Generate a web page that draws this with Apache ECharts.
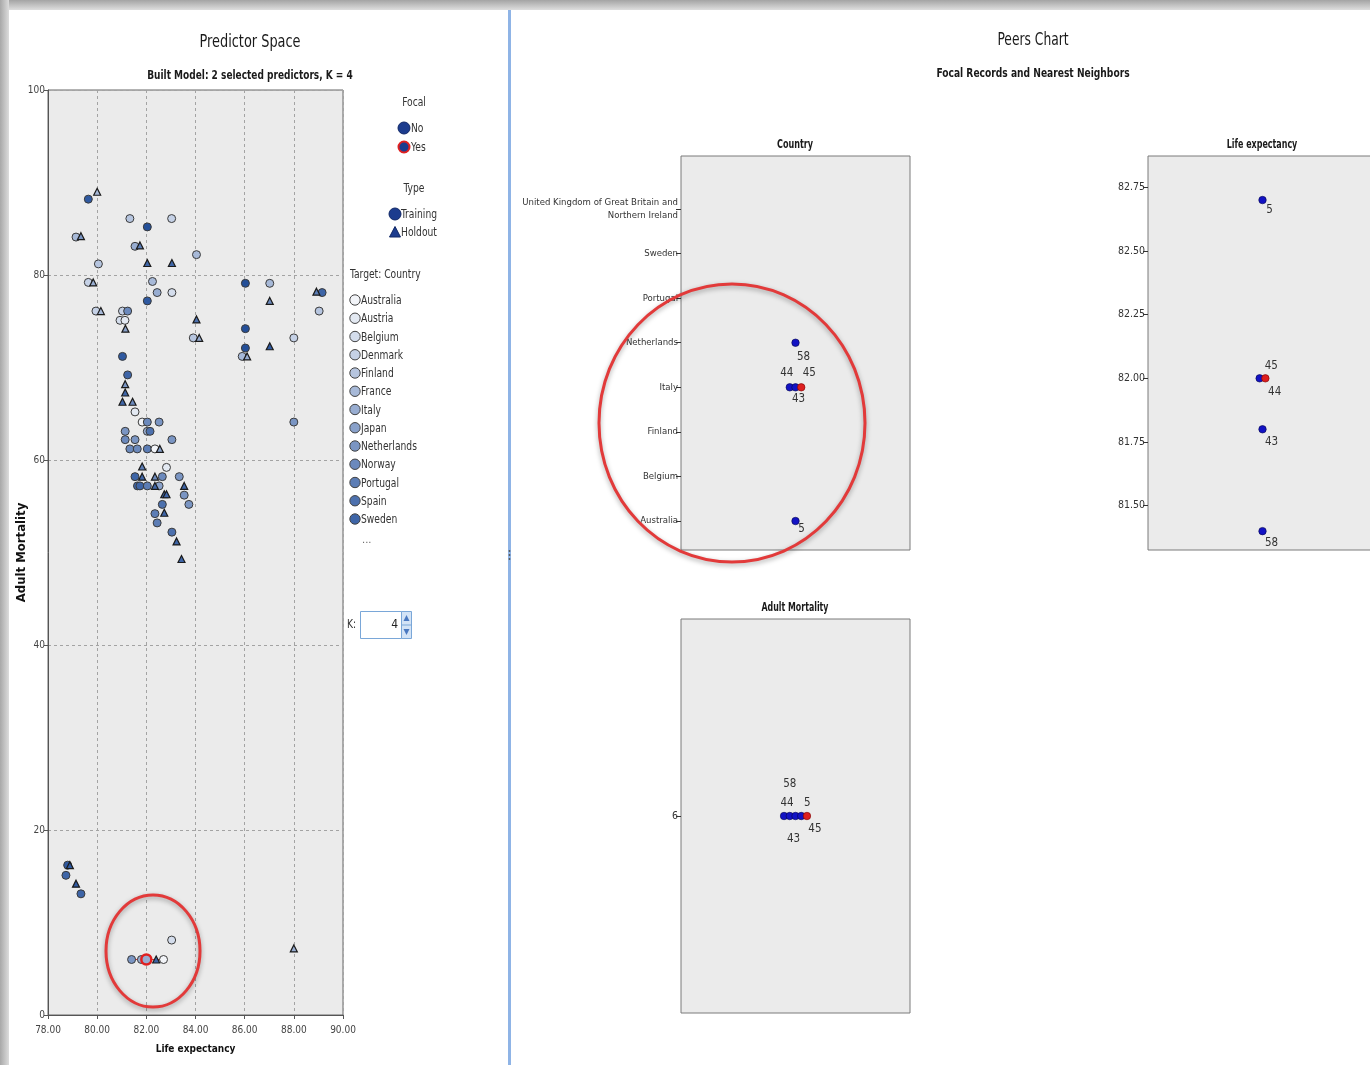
<!DOCTYPE html>
<html>
<head>
<meta charset="utf-8">
<script src="https://cdn.jsdelivr.net/npm/echarts@6/dist/echarts.min.js"></script>
<style>
  html, body { margin: 0; padding: 0; background: #ffffff; }
  #main { width: 1370px; height: 1065px; }
</style>
</head>
<body>
<div id="main"></div>
<script>
// ---------- data ----------
const countries = [
  'Australia', 'Austria', 'Belgium', 'Denmark', 'Finland', 'France', 'Italy',
  'Japan', 'Netherlands', 'Norway', 'Portugal', 'Spain', 'Sweden', 'Switzerland',
  'United Kingdom of Great Britain and Northern Ireland'
];
const legendCountryCount = 13;

// training records (predictor space)
const trainingLife = [
  79.64, 81.33, 82.04, 83.03, 79.14, 81.54, 80.05, 84.04, 79.64, 82.25,
  82.44, 83.04, 82.04, 86.03, 87.02, 89.15, 89.03, 79.95, 81.03, 81.24,
  80.93, 81.13, 86.03, 83.91, 88.00, 86.03, 85.90, 81.03, 81.24, 81.54,
  81.83, 82.04, 82.52, 82.04, 82.15, 81.14, 81.14, 81.54, 83.04, 81.33,
  81.63, 82.04, 82.35, 82.82, 81.54, 82.65, 83.34, 81.64, 81.74, 82.04,
  82.52, 83.54, 82.65, 83.73, 82.35, 82.44, 83.04, 88.00, 78.73, 78.80,
  79.34, 83.03
];
const trainingMortality = [
  88.2, 86.1, 85.2, 86.1, 84.1, 83.1, 81.2, 82.2, 79.2, 79.3,
  78.1, 78.1, 77.2, 79.1, 79.1, 78.1, 76.1, 76.1, 76.1, 76.1,
  75.1, 75.1, 74.2, 73.2, 73.2, 72.1, 71.2, 71.2, 69.2, 65.2,
  64.1, 64.1, 64.1, 63.1, 63.1, 63.1, 62.2, 62.2, 62.2, 61.2,
  61.2, 61.2, 61.2, 59.2, 58.2, 58.2, 58.2, 57.2, 57.2, 57.2,
  57.2, 56.2, 55.2, 55.2, 54.2, 53.2, 52.2, 64.1, 15.1, 16.2,
  13.1, 8.1
];
const trainingCountry = [
  13, 4, 14, 3, 5, 6, 4, 5, 3, 5,
  6, 2, 13, 14, 5, 12, 4, 3, 3, 9,
  2, 1, 14, 4, 3, 14, 5, 13, 12, 1,
  0, 9, 8, 6, 11, 8, 9, 8, 8, 9,
  9, 10, 0, 1, 12, 9, 8, 12, 12, 10,
  7, 8, 11, 8, 10, 10, 11, 8, 12, 13,
  12, 2
];

// holdout records
const holdoutLife = [
  80.00, 79.34, 81.74, 82.04, 83.04, 79.84, 87.02, 88.92, 80.15, 84.04,
  81.15, 84.15, 87.02, 86.10, 81.14, 81.14, 81.03, 81.44, 82.55, 81.83,
  81.83, 82.35, 82.35, 83.54, 82.73, 82.82, 82.73, 83.23, 83.43, 78.89,
  79.14, 88.00, 82.40
];
const holdoutMortality = [
  89.0, 84.2, 83.2, 81.3, 81.3, 79.2, 77.2, 78.2, 76.1, 75.2,
  74.2, 73.2, 72.3, 71.2, 68.2, 67.3, 66.3, 66.3, 61.2, 59.3,
  58.2, 58.2, 57.2, 57.2, 56.3, 56.3, 54.3, 51.2, 49.3, 16.2,
  14.2, 7.2, 6.0
];
const holdoutCountry = [
  5, 8, 10, 12, 12, 6, 9, 10, 5, 11,
  7, 6, 13, 6, 8, 12, 12, 9, 7, 10,
  12, 9, 12, 12, 12, 12, 12, 12, 12, 13,
  13, 6, 12
];

// focal record and its K = 4 nearest neighbours
const peerIds = [45, 44, 58, 43, 5];
const peerIsFocal = [true, false, false, false, false];
const peerCountry = [6, 6, 8, 6, 0];
const peerLife = [82.0, 82.0, 81.4, 81.8, 82.7];
const peerMortality = [6, 6, 6, 6, 6];
const peerStackOrder = [44, 58, 43, 5, 45];

// tick values
const countryTicks = [0, 2, 4, 6, 8, 10, 12, 14];
const lifeTicks = [81.5, 81.75, 82.0, 82.25, 82.5, 82.75];
const mortalityTicks = [6];

// ---------- styles ----------
const FONT = '"Liberation Sans Narrow", "DejaVu Sans Condensed", "Roboto Condensed", "Liberation Sans", sans-serif';
const countryColors = [
  '#f2f4f8', '#e3e9f2', '#d4ddec', '#c5d1e6', '#b6c5df', '#a7b9d8', '#98add1',
  '#89a1ca', '#7a95c3', '#6b89bc', '#5c7db5', '#4d71ae', '#3e65a7', '#2f59a0', '#244f98'
];
const PEER_BLUE = '#1212c4';
const PEER_RED = '#dd1f1f';
const FOCAL_NAVY = '#1c3c8e';

const countryLabelOffsets = { 45: [8, -14], 44: [-3, -14], 43: [3, 12], 58: [8, 14], 5: [6, 8] };
const lifeLabelOffsets = { 5: [7, 10], 45: [6, -12], 44: [15, 14], 43: [9, 13], 58: [9, 12] };
const mortalityLabelOffsets = { 58: [0, -32], 44: [3, -13], 5: [6, -13], 45: [8, 13], 43: [-2, 23] };

// ---------- helpers ----------
function wrapName(name, width) {
  const words = name.split(' ');
  const lines = [];
  let cur = '';
  words.forEach(w => {
    if (cur && (cur + ' ' + w).length > width) { lines.push(cur); cur = w; }
    else cur = cur ? cur + ' ' + w : w;
  });
  if (cur) lines.push(cur);
  return lines.join('\n');
}

// dot-plot stacking: records sharing a value are spread side by side
function stackOffsets(values) {
  const groups = {};
  values.forEach((v, i) => { (groups[v] = groups[v] || []).push(i); });
  const off = new Array(values.length).fill(0);
  Object.values(groups).forEach(idx => {
    idx.sort((a, b) => peerStackOrder.indexOf(peerIds[a]) - peerStackOrder.indexOf(peerIds[b]));
    idx.forEach((i, r) => { off[i] = r - (idx.length - 1) / 2; });
  });
  return off;
}

function peerSeries(values, axisIdx, labelOffsets) {
  const off = stackOffsets(values);
  const order = peerIds.map((_, i) => i).sort((a, b) => (peerIsFocal[a] ? 1 : 0) - (peerIsFocal[b] ? 1 : 0));
  return {
    type: 'scatter',
    xAxisIndex: axisIdx, yAxisIndex: axisIdx,
    symbol: 'circle', symbolSize: 7.5,
    silent: true,
    clip: false,
    data: order.map(i => ({
      name: String(peerIds[i]),
      value: [off[i], values[i]],
      itemStyle: {
        color: peerIsFocal[i] ? PEER_RED : PEER_BLUE,
        borderColor: peerIsFocal[i] ? '#7a0000' : '#05054a',
        borderWidth: 0.6,
        opacity: 1
      },
      label: { offset: labelOffsets[peerIds[i]] }
    })),
    label: {
      show: true, position: 'inside', formatter: p => p.name,
      color: '#333', fontSize: 11.5, fontFamily: FONT
    }
  };
}

// text drawn with an optional horizontal squeeze around its anchor
function txt(text, x, y, size, opts) {
  opts = opts || {};
  return {
    type: 'text', x: x, y: y, z: 50, silent: true,
    scaleX: opts.squeeze || 1,
    style: {
      text: text, fill: opts.color || '#1a1a1a',
      font: (opts.weight || 'normal') + ' ' + size + 'px ' + FONT,
      textAlign: opts.align || 'center', textVerticalAlign: 'middle',
      align: opts.align || 'center', verticalAlign: 'middle'
    }
  };
}

const peerAxisLabel = { fontSize: 10.5, color: '#333', fontFamily: FONT, margin: 3 };
const peerTick = { show: true, length: 5, lineStyle: { color: '#333', width: 1 } };
const peerGrid = {
  show: true, backgroundColor: '#ebebeb', borderColor: '#7a7a7a', borderWidth: 1,
  outerBoundsMode: 'none', containLabel: false
};

// ---------- chart ----------
const chart = echarts.init(document.getElementById('main'), null, { renderer: 'canvas' });

const focalIdx = peerIsFocal.indexOf(true);
const neighbourIdx = peerIds.map((_, i) => i).filter(i => !peerIsFocal[i]);

const option = {
  backgroundColor: '#ffffff',
  animation: false,
  textStyle: { fontFamily: FONT },
  grid: [
    { left: 48, top: 90, width: 295, height: 925, show: true, backgroundColor: '#ebebeb',
      borderColor: '#666', borderWidth: 1, outerBoundsMode: 'none', containLabel: false },
    Object.assign({ left: 681, top: 156, width: 229, height: 394 }, peerGrid),
    Object.assign({ left: 1148, top: 156, width: 229, height: 394 }, peerGrid),
    Object.assign({ left: 681, top: 619, width: 229, height: 394 }, peerGrid)
  ],
  xAxis: [
    {
      gridIndex: 0, type: 'value', min: 78, max: 90, interval: 2,
      name: 'Life expectancy', nameLocation: 'middle', nameGap: 29,
      nameTextStyle: { fontWeight: 'bold', fontSize: 10, color: '#111', fontFamily: FONT },
      axisLine: { show: true, onZero: false, lineStyle: { color: '#555' } },
      axisTick: { show: true, length: 4, lineStyle: { color: '#555' } },
      axisLabel: { formatter: v => v.toFixed(2), fontSize: 10, color: '#444', margin: 10, fontFamily: FONT },
      splitLine: { show: true, lineStyle: { type: [3, 3], color: '#a3a3a3' } }
    },
    { gridIndex: 1, type: 'value', min: -20, max: 20, show: false },
    { gridIndex: 2, type: 'value', min: -20, max: 20, show: false },
    { gridIndex: 3, type: 'value', min: -20, max: 20, show: false }
  ],
  yAxis: [
    {
      gridIndex: 0, type: 'value', min: 0, max: 100, interval: 20,
      name: 'Adult Mortality', nameLocation: 'middle', nameGap: 20, nameMoveOverlap: false,
      nameTextStyle: { fontWeight: 'bold', fontSize: 13, color: '#111', fontFamily: FONT },
      axisLine: { show: true, onZero: false, lineStyle: { color: '#555' } },
      axisTick: { show: true, length: 4, lineStyle: { color: '#555' } },
      axisLabel: { fontSize: 10, color: '#444', margin: 3, fontFamily: FONT },
      splitLine: { show: true, lineStyle: { type: [3, 3], color: '#a3a3a3' } }
    },
    {
      gridIndex: 1, type: 'value', min: -1.3, max: 16.38,
      axisLine: { show: false, onZero: false },
      axisTick: Object.assign({ customValues: countryTicks }, peerTick),
      axisLabel: Object.assign({}, peerAxisLabel, {
        customValues: countryTicks, lineHeight: 13, fontSize: 9.5,
        formatter: v => wrapName(countries[Math.round(v)], 36)
      }),
      splitLine: { show: false }
    },
    {
      gridIndex: 2, type: 'value', min: 81.326, max: 82.873,
      axisLine: { show: false, onZero: false },
      axisTick: Object.assign({ customValues: lifeTicks }, peerTick),
      axisLabel: Object.assign({ customValues: lifeTicks, formatter: v => v.toFixed(2) }, peerAxisLabel),
      splitLine: { show: false }
    },
    {
      gridIndex: 3, type: 'value', min: 5, max: 7,
      axisLine: { show: false, onZero: false },
      axisTick: Object.assign({ customValues: mortalityTicks }, peerTick),
      axisLabel: Object.assign({ customValues: mortalityTicks, formatter: v => String(v) }, peerAxisLabel),
      splitLine: { show: false }
    }
  ],
  series: [
    {
      name: 'Training', type: 'scatter', xAxisIndex: 0, yAxisIndex: 0,
      symbol: 'circle', symbolSize: 8, silent: true,
      itemStyle: { borderColor: '#3a3a3a', borderWidth: 1, opacity: 1 },
      data: trainingLife.map((x, i) => ({
        value: [x, trainingMortality[i]],
        itemStyle: { color: countryColors[trainingCountry[i]] }
      }))
    },
    {
      name: 'Holdout', type: 'scatter', xAxisIndex: 0, yAxisIndex: 0,
      symbol: 'triangle', symbolSize: 7, silent: true,
      itemStyle: { borderColor: '#1a1a1a', borderWidth: 1.2, opacity: 1 },
      data: holdoutLife.map((x, i) => ({
        value: [x, holdoutMortality[i]],
        itemStyle: { color: countryColors[holdoutCountry[i]] }
      }))
    },
    {
      name: 'Neighbour links', type: 'lines', coordinateSystem: 'cartesian2d',
      xAxisIndex: 0, yAxisIndex: 0, silent: true,
      lineStyle: { color: '#e03030', width: 1.2, opacity: 1 },
      data: neighbourIdx.map(i => ({
        coords: [[peerLife[focalIdx], peerMortality[focalIdx]], [peerLife[i], peerMortality[i]]]
      }))
    },
    {
      name: 'Neighbours', type: 'scatter', xAxisIndex: 0, yAxisIndex: 0,
      symbol: 'circle', symbolSize: 8, silent: true, z: 3,
      itemStyle: { borderColor: '#3a3a3a', borderWidth: 1, opacity: 1 },
      data: neighbourIdx.map(i => ({
        value: [peerLife[i], peerMortality[i]],
        itemStyle: { color: countryColors[peerCountry[i]] }
      }))
    },
    {
      name: 'Focal', type: 'scatter', xAxisIndex: 0, yAxisIndex: 0,
      symbol: 'circle', symbolSize: 10, silent: true, z: 4,
      itemStyle: { color: countryColors[peerCountry[focalIdx]], borderColor: '#e02020', borderWidth: 2.5, opacity: 1 },
      data: [[peerLife[focalIdx], peerMortality[focalIdx]]]
    },
    peerSeries(peerCountry, 1, countryLabelOffsets),
    peerSeries(peerLife, 2, lifeLabelOffsets),
    peerSeries(peerMortality, 3, mortalityLabelOffsets)
  ]
};

// ---------- page furniture, titles and legend ----------
const G = echarts.graphic;
const graphics = [];

// window frame shading and split bar
graphics.push({
  type: 'rect', z: 1, silent: true, shape: { x: 0, y: 0, width: 1370, height: 10 },
  style: { fill: new G.LinearGradient(0, 0, 0, 1, [{ offset: 0, color: '#a4a4a4' }, { offset: 1, color: '#dedede' }]) }
});
graphics.push({
  type: 'rect', z: 1, silent: true, shape: { x: 0, y: 0, width: 9, height: 1065 },
  style: { fill: new G.LinearGradient(0, 0, 1, 0, [{ offset: 0, color: '#a8a8a8' }, { offset: 1, color: '#dcdcdc' }]) }
});
graphics.push({
  type: 'rect', z: 1, silent: true, shape: { x: 508, y: 10, width: 3, height: 1055 },
  style: { fill: '#8fb4e6' }
});
[551, 555, 559].forEach(y => graphics.push({
  type: 'circle', z: 2, silent: true, shape: { cx: 509.5, cy: y, r: 0.9 }, style: { fill: '#555' }
}));

// titles
graphics.push(txt('Predictor Space', 250, 42, 17.5, { squeeze: 0.82 }));
graphics.push(txt('Built Model: 2 selected predictors, K = 4', 250, 76, 13, { weight: 'bold', squeeze: 0.77 }));
graphics.push(txt('Peers Chart', 1033, 40, 17.5, { squeeze: 0.78 }));
graphics.push(txt('Focal Records and Nearest Neighbors', 1033, 74, 13, { weight: 'bold', squeeze: 0.78 }));
graphics.push(txt('Country', 795, 145, 11.5, { weight: 'bold', squeeze: 0.78 }));
graphics.push(txt('Life expectancy', 1262, 145, 11.5, { weight: 'bold', squeeze: 0.77 }));
graphics.push(txt('Adult Mortality', 795, 608, 11.5, { weight: 'bold', squeeze: 0.76 }));

// legend: focal
const LG = { color: '#333', squeeze: 0.85 };
const LGL = { align: 'left', color: '#333', squeeze: 0.85 };
graphics.push(txt('Focal', 414, 103, 12, LG));
graphics.push({ type: 'circle', z: 50, silent: true, shape: { cx: 404, cy: 128, r: 6 },
  style: { fill: FOCAL_NAVY, stroke: '#102766', lineWidth: 1 } });
graphics.push(txt('No', 411, 129, 12, LGL));
graphics.push({ type: 'circle', z: 50, silent: true, shape: { cx: 404, cy: 147, r: 5.5 },
  style: { fill: FOCAL_NAVY, stroke: '#e02020', lineWidth: 2 } });
graphics.push(txt('Yes', 411, 148, 12, LGL));

// legend: type
graphics.push(txt('Type', 414, 189, 12, LG));
graphics.push({ type: 'circle', z: 50, silent: true, shape: { cx: 395, cy: 214, r: 6 },
  style: { fill: FOCAL_NAVY, stroke: '#102766', lineWidth: 1 } });
graphics.push(txt('Training', 401, 215, 12, LGL));
graphics.push({ type: 'polygon', z: 50, silent: true,
  shape: { points: [[395, 226.5], [400.5, 237], [389.5, 237]] },
  style: { fill: FOCAL_NAVY, stroke: '#102766', lineWidth: 1 } });
graphics.push(txt('Holdout', 401, 233, 12, LGL));

// legend: target country
graphics.push(txt('Target: Country', 350, 275, 12, LGL));
countries.slice(0, legendCountryCount).forEach((c, i) => {
  const y = 300 + i * 18.25;
  graphics.push({ type: 'circle', z: 50, silent: true, shape: { cx: 355, cy: y, r: 5.2 },
    style: { fill: countryColors[i], stroke: '#444', lineWidth: 1 } });
  graphics.push(txt(c, 361, y + 1, 12, LGL));
});
graphics.push(txt('...', 362, 540, 11, { align: 'left', color: '#666' }));

// K spinner
graphics.push(txt('K:', 347, 625, 12, LGL));
graphics.push({ type: 'rect', z: 50, silent: true, shape: { x: 360.5, y: 611.5, width: 41, height: 27 },
  style: { fill: '#ffffff', stroke: '#7aa7d8', lineWidth: 1 } });
graphics.push(txt('4', 398, 625, 12, { align: 'right', color: '#222' }));
graphics.push({ type: 'rect', z: 50, silent: true, shape: { x: 401.5, y: 611.5, width: 10, height: 27 },
  style: { fill: '#d3e3f6', stroke: '#7aa7d8', lineWidth: 1 } });
graphics.push({ type: 'line', z: 51, silent: true, shape: { x1: 401.5, y1: 625, x2: 411.5, y2: 625 },
  style: { stroke: '#7aa7d8', lineWidth: 1 } });
graphics.push({ type: 'polygon', z: 52, silent: true, shape: { points: [[406.5, 615], [409.5, 621], [403.5, 621]] },
  style: { fill: '#4a78c0' } });
graphics.push({ type: 'polygon', z: 52, silent: true, shape: { points: [[403.5, 629], [409.5, 629], [406.5, 635]] },
  style: { fill: '#4a78c0' } });

// highlight rings around the focal record
const ringStyle = { fill: 'none', stroke: '#e23a3a', lineWidth: 3,
  shadowBlur: 5, shadowColor: 'rgba(0,0,0,0.35)', shadowOffsetY: 2 };
graphics.push({ type: 'ellipse', z: 100, silent: true, shape: { cx: 153, cy: 951, rx: 47, ry: 56 }, style: ringStyle });
graphics.push({ type: 'ellipse', z: 100, silent: true, shape: { cx: 732, cy: 423, rx: 133, ry: 139 }, style: ringStyle });

option.graphic = { elements: graphics };
chart.setOption(option);
</script>
</body>
</html>
